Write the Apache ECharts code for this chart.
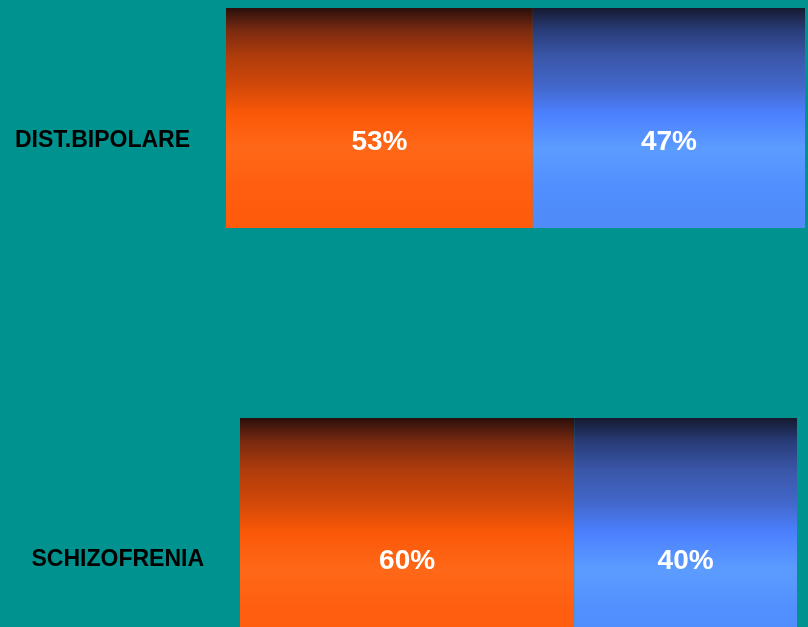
<!DOCTYPE html>
<html><head><meta charset="utf-8">
<script src="https://cdn.jsdelivr.net/npm/echarts@6/dist/echarts.min.js"></script>
<style>html,body{margin:0;padding:0;background:#00928E;overflow:hidden;height:627px;}#c{width:808px;height:660px;}</style>
</head><body><div id="c"></div>
<script>
const categories = ['DIST.BIPOLARE', 'SCHIZOFRENIA'];
const orangeValues = [53, 60];
const blueValues = [47, 40];

const orangeGrad = new echarts.graphic.LinearGradient(0, 0, 0, 1, [
  {offset: 0, color: '#2a0f0c'},
  {offset: 0.1, color: '#7a2a10'},
  {offset: 0.22, color: '#b03c0c'},
  {offset: 0.35, color: '#d04808'},
  {offset: 0.48, color: '#fa5808'},
  {offset: 0.64, color: '#ff6818'},
  {offset: 0.8, color: '#ff5e10'},
  {offset: 1, color: '#ff5a0c'}
]);
const blueGrad = new echarts.graphic.LinearGradient(0, 0, 0, 1, [
  {offset: 0, color: '#161a30'},
  {offset: 0.1, color: '#283c78'},
  {offset: 0.22, color: '#3a56a8'},
  {offset: 0.35, color: '#4266c8'},
  {offset: 0.48, color: '#4c80ff'},
  {offset: 0.64, color: '#5c9cff'},
  {offset: 0.8, color: '#5290ff'},
  {offset: 1, color: '#4e8af8'}
]);

const grids = [
  {left: 226, right: 3, top: 8, height: 220},
  {left: 240, right: 11, top: 418, height: 238}
];
const xAxes = grids.map((g, i) => ({gridIndex: i, type: 'value', min: 0, max: 100, show: false}));
const yAxes = grids.map((g, i) => ({
  gridIndex: i, type: 'category', data: [categories[i]],
  axisLine: {show: false}, axisTick: {show: false}, splitLine: {show: false},
  axisLabel: {show: true, margin: 36, color: '#000', fontSize: 23, fontWeight: 'bold',
    fontFamily: 'Liberation Sans, Arial, sans-serif', verticalAlign: 'top', lineHeight: 46}
}));
const labelStyle = {show: true, position: 'inside', formatter: '{c}%', color: '#fff',
  fontSize: 28, fontWeight: 'bold', fontFamily: '"Liberation Sans", Arial, sans-serif',
  offset: [0, 24]};
const series = [];
categories.forEach((c, i) => {
  series.push({type: 'bar', xAxisIndex: i, yAxisIndex: i, stack: 's' + i, barCategoryGap: '0%',
    data: [orangeValues[i]], itemStyle: {color: orangeGrad}, label: labelStyle});
  series.push({type: 'bar', xAxisIndex: i, yAxisIndex: i, stack: 's' + i, barCategoryGap: '0%',
    data: [blueValues[i]], itemStyle: {color: blueGrad}, label: labelStyle});
});

const chart = echarts.init(document.getElementById('c'), null, {renderer: 'canvas'});
chart.setOption({
  backgroundColor: '#00928E',
  animation: false,
  grid: grids, xAxis: xAxes, yAxis: yAxes, series: series
});
</script></body></html>
